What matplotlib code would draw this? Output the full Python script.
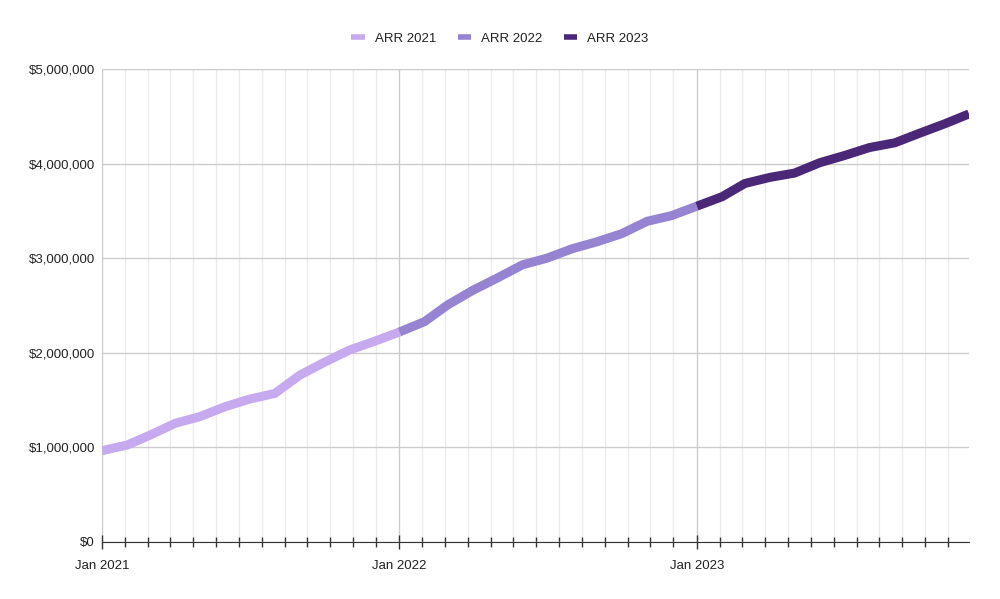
import matplotlib.pyplot as plt
import matplotlib.dates as mdates
from matplotlib.ticker import FuncFormatter
import datetime as dt

plt.rcParams['font.family'] = ['Liberation Sans', 'DejaVu Sans']

# monthly ARR (first of each month)
arr_2021 = [965000, 1025000, 1130000, 1255000, 1325000, 1430000,
            1510000, 1570000, 1765000, 1900000, 2030000, 2120000]
arr_2022 = [2220000, 2330000, 2505000, 2660000, 2790000, 2930000,
            3000000, 3100000, 3175000, 3260000, 3390000, 3450000]
arr_2023 = [3550000, 3650000, 3790000, 3855000, 3900000, 4010000,
            4085000, 4170000, 4220000, 4320000, 4420000, 4525000]
series_names = ['ARR 2021', 'ARR 2022', 'ARR 2023']
colors = ['#c6a9ef', '#9683d1', '#4b2877']


def months(year, n):
    return [dt.date(year, m, 1) for m in range(1, n + 1)]


fig = plt.figure(figsize=(10, 5.99), dpi=100)
ax = fig.add_axes([0.102, 0.0952, 0.867, 0.7896])

# each year's line runs on to the next year's January point
segments = [
    (months(2021, 12) + [dt.date(2022, 1, 1)], arr_2021 + arr_2022[:1]),
    (months(2022, 12) + [dt.date(2023, 1, 1)], arr_2022 + arr_2023[:1]),
    (months(2023, 12), arr_2023),
]
for (xs, ys), name, c in zip(segments, series_names, colors):
    ax.plot(xs, ys, color=c, lw=6.5, label=name, solid_capstyle='butt',
            solid_joinstyle='miter', zorder=3)

start = dt.date(2021, 1, 1)
end = dt.date(2023, 12, 1)
ax.set_xlim(start, end)
ax.set_ylim(0, 5000000)

# year ticks plus 13 minor ticks per year
major = [dt.date(y, 1, 1) for y in (2021, 2022, 2023)]
minor = []
for y in (2021, 2022, 2023):
    y0 = dt.date(y, 1, 1)
    for k in range(1, 13):
        d = y0 + dt.timedelta(days=365 * k / 13)
        if d < end:
            minor.append(d)
ax.set_xticks(major)
ax.set_xticks(minor, minor=True)
ax.xaxis.set_major_formatter(mdates.DateFormatter('%b %Y'))

ax.set_yticks(range(0, 5000001, 1000000))
ax.yaxis.set_major_formatter(FuncFormatter(lambda v, p: '${:,.0f}'.format(v)))

ax.grid(axis='x', which='major', color='#cccccc', lw=1)
ax.grid(axis='x', which='minor', color='#ebebeb', lw=1)
ax.grid(axis='y', which='major', color='#cccccc', lw=1)
ax.set_axisbelow(True)

for s in ('top', 'right', 'left'):
    ax.spines[s].set_visible(False)
ax.spines['bottom'].set_color('#333333')
ax.spines['bottom'].set_zorder(4)

ax.tick_params(axis='x', which='major', length=10, width=1, color='#333333',
               direction='inout', labelsize=9.5, pad=8, labelcolor='#222222')
ax.tick_params(axis='x', which='minor', length=7, width=1, color='#333333',
               direction='inout')
ax.tick_params(axis='y', length=0, labelsize=9.5, pad=5, labelcolor='#222222')

leg = fig.legend(loc='upper center', bbox_to_anchor=(0.5, 0.965), ncol=3,
                 frameon=False, fontsize=9.5, handlelength=1.0,
                 columnspacing=1.6, handletextpad=0.8)
for h in leg.get_lines():
    h.set_linewidth(4)
for t in leg.get_texts():
    t.set_color('#222222')

fig.savefig('out.png', dpi=100)
